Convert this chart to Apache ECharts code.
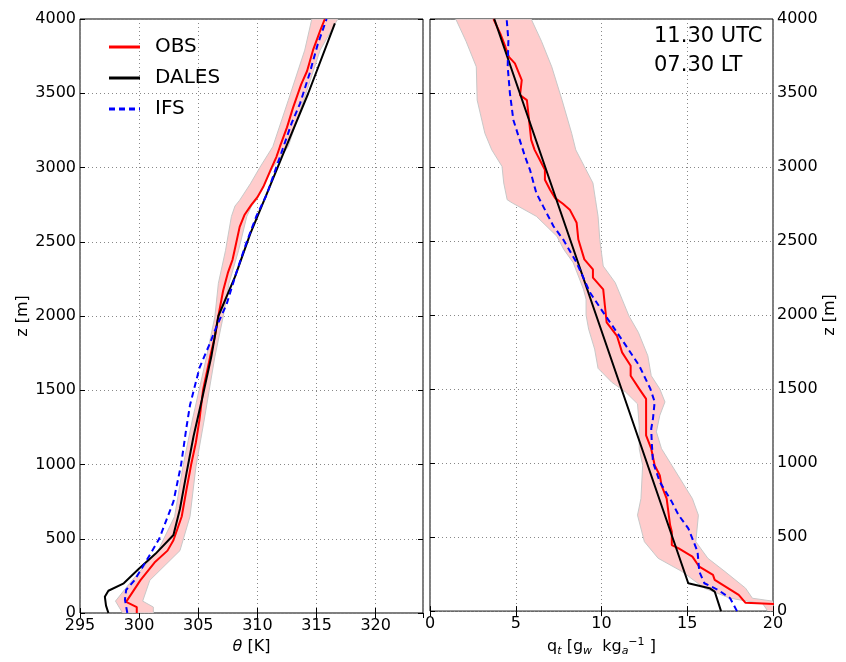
<!DOCTYPE html>
<html><head><meta charset="utf-8">
<script src="https://cdn.jsdelivr.net/npm/echarts@6/dist/echarts.min.js"></script>
<style>html,body{margin:0;padding:0;background:#fff}#c{width:846px;height:662px}</style>
</head><body><div id="c"></div>
<script>
// ---------- DATA ----------
// Left panel: potential temperature theta [K] vs height z [m]
const obsThetaZ = [0, 40, 75, 220, 340, 420, 490, 650, 830, 1000, 1150, 1300, 1500, 1725, 1860, 2000, 2170, 2290, 2380, 2490, 2600, 2680, 2750, 2800, 2870, 2980, 3070, 3140, 3270, 3400, 3560, 3650, 3790, 3920, 4000];
const obsTheta  = [299.8, 299.8, 298.9, 300.1, 301.3, 302.4, 302.9, 303.6, 304.0, 304.4, 304.8, 305.1, 305.4, 306.0, 306.4, 306.7, 307.1, 307.5, 307.9, 308.2, 308.5, 308.9, 309.5, 310.0, 310.5, 311.1, 311.6, 311.9, 312.5, 313.0, 313.7, 314.2, 314.7, 315.3, 315.7];
const obsThetaBandZ = [0, 40, 80, 220, 420, 650, 985, 1300, 1725, 1994, 2220, 2440, 2670, 2740, 2780, 2890, 3000, 3140, 3450, 3790, 4000];
const obsThetaLow   = [298.6, 298.3, 298.0, 299.4, 301.6, 303.0, 303.7, 304.5, 305.7, 306.4, 306.7, 307.3, 307.8, 308.1, 308.5, 309.4, 310.2, 311.3, 312.6, 314.0, 314.6];
const obsThetaHigh  = [301.2, 301.2, 300.3, 300.9, 303.45, 304.3, 304.8, 305.5, 306.4, 307.1, 307.6, 308.4, 309.1, 309.5, 309.9, 310.6, 311.3, 312.6, 313.9, 315.3, 316.8];
const dalesThetaZ = [0, 50, 110, 150, 200, 300, 400, 525, 700, 940, 1190, 1434, 1725, 2000, 2263, 2555, 2824, 3116, 3500, 3970];
const dalesTheta  = [297.4, 297.2, 297.1, 297.4, 298.7, 300.0, 301.4, 302.9, 303.45, 304.0, 304.6, 305.3, 306.1, 306.7, 308.1, 309.4, 310.8, 312.3, 314.3, 316.55];
const ifsThetaZ = [0, 90, 155, 220, 350, 500, 750, 1000, 1250, 1400, 1650, 1800, 1930, 2080, 2300, 2500, 2670, 2820, 3070, 3300, 3430, 3630, 3830, 4000];
const ifsTheta  = [299.0, 298.8, 298.9, 299.6, 300.6, 301.7, 302.9, 303.55, 304.0, 304.3, 305.1, 305.9, 306.55, 307.4, 308.25, 309.1, 309.9, 310.8, 311.9, 312.9, 313.6, 314.4, 315.1, 315.85];

// Right panel: total specific humidity q_t [g/kg] vs height z [m]
const obsQZ = [0, 48, 56, 110, 211, 245, 300, 368, 424, 446, 536, 581, 760, 850, 917, 985, 1097, 1187, 1254, 1344, 1434, 1501, 1590, 1658, 1748, 1860, 1950, 2061, 2174, 2253, 2308, 2376, 2510, 2623, 2712, 2752, 2790, 2847, 2914, 2981, 3049, 3116, 3183, 3452, 3486, 3587, 3700, 3744, 3811, 3901, 4000];
const obsQ  = [21, 20.2, 18.4, 18.0, 16.6, 16.5, 15.7, 15.3, 14.5, 14.1, 14.1, 14.0, 13.8, 13.5, 13.4, 13.1, 12.9, 12.6, 12.6, 12.6, 12.6, 12.2, 11.7, 11.7, 11.2, 10.9, 10.3, 10.2, 10.1, 9.5, 9.5, 9.0, 8.65, 8.55, 8.15, 7.75, 7.3, 7.0, 6.7, 6.7, 6.4, 6.1, 5.9, 5.65, 5.25, 5.35, 4.95, 4.6, 4.4, 4.1, 3.7];
const obsQBandZ = [0, 50, 87, 155, 267, 357, 469, 648, 760, 985, 1097, 1254, 1400, 1480, 1546, 1640, 1770, 1905, 2000, 2107, 2174, 2354, 2443, 2532, 2667, 2757, 2779, 2892, 3004, 3116, 3228, 3452, 3677, 3850, 4000];
const obsQLow   = [19.7, 19.4, 17.5, 16.0, 14.7, 13.3, 12.5, 12.1, 12.3, 12.4, 12.2, 12.2, 12.1, 11.4, 10.6, 9.8, 9.6, 9.25, 9.1, 9.1, 8.95, 8.35, 7.8, 7.4, 6.2, 4.8, 4.5, 4.3, 4.2, 3.6, 3.2, 2.75, 2.7, 2.1, 1.5];
const obsQHighZ = [0, 50, 87, 155, 267, 357, 469, 648, 760, 985, 1097, 1211, 1322, 1413, 1501, 1590, 1725, 1883, 1994, 2107, 2219, 2331, 2510, 2667, 2779, 2892, 3004, 3116, 3228, 3452, 3677, 3850, 4000];
const obsQHigh  = [21, 21, 18.8, 18.4, 17.2, 16.2, 15.5, 15.65, 15.3, 14.1, 13.5, 13.2, 13.4, 13.7, 13.4, 12.9, 12.7, 12.15, 11.6, 11.2, 10.8, 10.1, 9.9, 9.8, 9.65, 9.5, 9.0, 8.5, 8.26, 7.7, 7.1, 6.5, 5.9];
const dalesQZ = [0, 132, 155, 188, 4000];
const dalesQ  = [16.97, 16.6, 16.3, 15.06, 3.75];
const ifsQZ = [0, 87, 143, 188, 267, 402, 559, 648, 738, 873, 1007, 1142, 1232, 1299, 1413, 1501, 1658, 1770, 1883, 2018, 2152, 2354, 2510, 2600, 2734, 2824, 2981, 3071, 3318, 3498, 3677, 3856, 4000];
const ifsQ  = [17.9, 17.5, 16.8, 16.0, 15.7, 15.6, 15.06, 14.5, 14.1, 13.4, 13.0, 12.93, 12.9, 13.0, 13.1, 12.85, 12.2, 11.56, 10.9, 10.1, 9.33, 8.55, 7.77, 7.2, 6.6, 6.2, 5.83, 5.54, 4.86, 4.66, 4.53, 4.57, 4.47];

const thetaTicks = {min: 295, max: 324, interval: 5};
const qTicks = {min: 0, max: 20, interval: 5};
const zTicks = {min: 0, max: 4000, interval: 500};
const legendNames = ['OBS', 'DALES', 'IFS'];
const annotation = ['11.30 UTC', '07.30 LT'];

// ---------- BUILD ----------
const FONT = 'DejaVu Sans';
const zip = (xs, zs) => xs.map((x, i) => [x, zs[i]]);

function bandSeries(idx, loZ, lo, hiZ, hi) {
  const pts = zip(lo, loZ);
  for (let i = hi.length - 1; i >= 0; i--) pts.push([hi[i], hiZ[i]]);
  return {
    type: 'custom', xAxisIndex: idx, yAxisIndex: idx, clip: true, silent: true, z: 1,
    encode: {x: 0, y: 1},
    data: pts,
    renderItem: function (params, api) {
      if (params.dataIndex !== 0) return {type: 'group', children: []};
      const p = pts.map(d => api.coord(d));
      return {type: 'polygon', shape: {points: p},
        style: {fill: '#ffcccc', stroke: '#c8c8c8', lineWidth: 1}};
    }
  };
}
function lineSeries(name, idx, xs, zs, color, dashed) {
  return {
    type: 'line', name: name, xAxisIndex: idx, yAxisIndex: idx,
    data: zip(xs, zs), symbol: 'none', showSymbol: false, clip: true, z: 3,
    lineStyle: {color: color, width: 2, type: dashed ? [6, 4] : 'solid'},
    itemStyle: {color: color}, animation: false
  };
}

const gridLine = {show: true, lineStyle: {color: '#888', width: 1, type: [1, 3]}};
const labelStyle = {color: '#000', fontFamily: FONT, fontSize: 16};

function xAx(idx, t, name, showMax) {
  return {
    type: 'value', gridIndex: idx, min: t.min, max: t.max, interval: t.interval,
    position: 'bottom',
    axisLine: {show: false},
    axisTick: {show: true, inside: true, length: 5, lineStyle: {color: '#000'}},
    axisLabel: Object.assign({margin: 5, showMaxLabel: showMax, formatter: v => String(v)}, labelStyle),
    splitLine: gridLine,
    name: name, nameLocation: 'middle', nameGap: 25,
    nameTextStyle: {color: '#000', fontFamily: FONT, fontSize: 16,
      rich: {
        it: {fontStyle: 'italic', fontSize: 16, fontFamily: FONT},
        n: {fontSize: 16, fontFamily: FONT},
        sub: {fontSize: 11, fontFamily: FONT, fontStyle: 'italic', padding: [9, 0, 0, 0]},
        sup: {fontSize: 11, fontFamily: FONT, padding: [0, 0, 9, 0]}
      }}
  };
}
function xTop(idx, t) {
  return {type: 'value', gridIndex: idx, min: t.min, max: t.max, interval: t.interval, position: 'top',
    axisLine: {show: false}, axisLabel: {show: false}, splitLine: {show: false},
    axisTick: {show: true, inside: true, length: 5, lineStyle: {color: '#000'}}};
}
function yAx(idx, pos, showLabels, inside, name) {
  const a = {
    type: 'value', gridIndex: idx, min: zTicks.min, max: zTicks.max, interval: zTicks.interval,
    position: pos,
    axisLine: {show: false},
    axisTick: {show: true, inside: inside, length: 5, lineStyle: {color: '#000'}},
    axisLabel: Object.assign({show: showLabels, margin: 4, formatter: v => String(v)}, labelStyle),
    splitLine: showLabels ? gridLine : {show: false}
  };
  if (name) {
    a.name = name; a.nameLocation = 'middle'; a.nameRotate = 90; a.nameGap = 49;
    a.nameTextStyle = {color: '#000', fontFamily: FONT, fontSize: 16};
  }
  return a;
}

const solidIcon = 'path://M0,0H31V3H0Z';
const dashIcon = 'path://M0,0H6V3H0Z M10,0H16V3H10Z M20,0H26V3H20Z M30,0H31V3H30Z';

const option = {
  animation: false,
  backgroundColor: '#fff',
  textStyle: {fontFamily: FONT},
  grid: [
    {left: 80, top: 19, width: 343, height: 594, show: true, borderColor: '#000', borderWidth: 1, backgroundColor: 'transparent'},
    {left: 430, top: 19, width: 343, height: 594, show: true, borderColor: '#000', borderWidth: 1, backgroundColor: 'transparent'}
  ],
  xAxis: [
    xAx(0, thetaTicks, '{it|θ}{n| [K]}', false),
    xAx(1, qTicks, '{n|q}{sub|t}{n| [g}{sub|w}{n|  kg}{sub|a}{sup|−1}{n| ]}', true),
    xTop(0, thetaTicks), xTop(1, qTicks)
  ],
  yAxis: [
    yAx(0, 'left', true, true, 'z [m]'),
    yAx(1, 'right', true, false, 'z [m]'),
    yAx(0, 'right', false, true, null),
    yAx(1, 'left', false, true, null)
  ],
  legend: {
    data: [
      {name: legendNames[0], icon: solidIcon},
      {name: legendNames[1], icon: solidIcon},
      {name: legendNames[2], icon: dashIcon}
    ],
    orient: 'vertical', left: 104, top: 32,
    itemWidth: 31, itemHeight: 3, itemGap: 11,
    textStyle: {color: '#000', fontFamily: FONT, fontSize: 20, lineHeight: 20, padding: [0, 0, 0, 10]},
    selectedMode: false
  },
  graphic: [
    {type: 'text', left: 654, top: 26, style: {text: annotation[0], fill: '#000', font: '21px "DejaVu Sans"'}},
    {type: 'text', left: 654, top: 55, style: {text: annotation[1], fill: '#000', font: '21px "DejaVu Sans"'}}
  ],
  series: [
    bandSeries(0, obsThetaBandZ, obsThetaLow, obsThetaBandZ, obsThetaHigh),
    lineSeries(legendNames[0], 0, obsTheta, obsThetaZ, '#ff0000', false),
    lineSeries(legendNames[1], 0, dalesTheta, dalesThetaZ, '#000000', false),
    lineSeries(legendNames[2], 0, ifsTheta, ifsThetaZ, '#0000ff', true),
    bandSeries(1, obsQBandZ, obsQLow, obsQHighZ, obsQHigh),
    lineSeries(legendNames[0], 1, obsQ, obsQZ, '#ff0000', false),
    lineSeries(legendNames[1], 1, dalesQ, dalesQZ, '#000000', false),
    lineSeries(legendNames[2], 1, ifsQ, ifsQZ, '#0000ff', true)
  ]
};
const chart = echarts.init(document.getElementById('c'), null, {renderer: 'canvas'});
chart.setOption(option);
</script>
</body></html>
